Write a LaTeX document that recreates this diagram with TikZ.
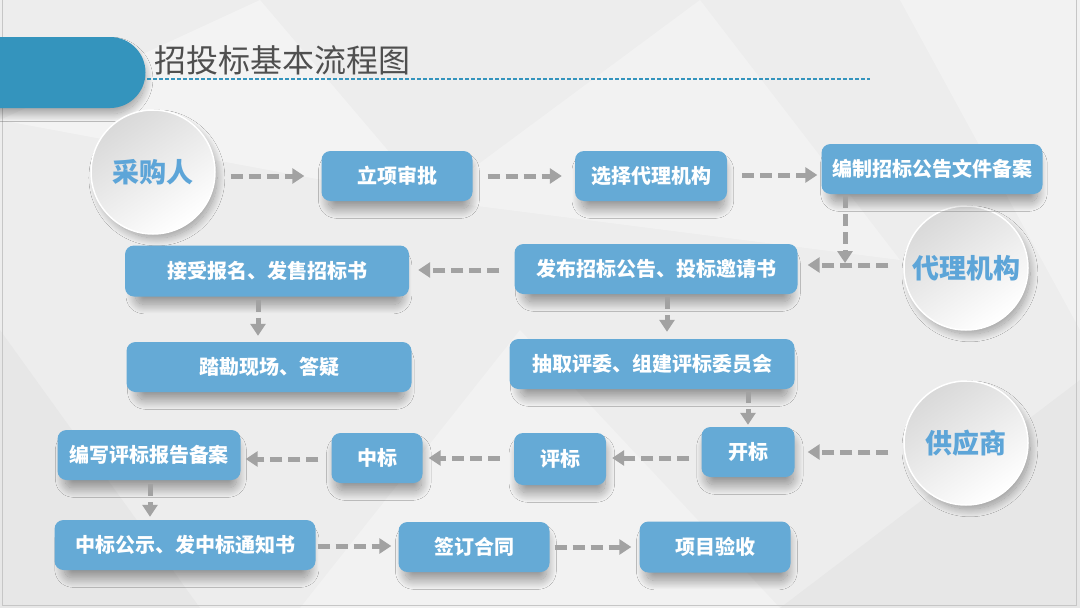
\documentclass[tikz,border=0pt]{standalone}
\usepackage{fontspec}
\newfontfamily\cjk{Noto Sans CJK SC}
\usetikzlibrary{arrows.meta,shadows.blur}
\definecolor{bgc}{HTML}{EDEDED}
\definecolor{boxblue}{HTML}{65AAD6}
\definecolor{titleblue}{HTML}{3494BD}
\definecolor{circblue}{HTML}{5DA5D8}
\definecolor{arrgray}{HTML}{A2A2A2}
\definecolor{titlegray}{HTML}{4F4F4F}
\begin{document}
\begin{tikzpicture}[x=1pt,y=-1pt,
  stepbox/.style={rectangle, rounded corners=9pt, fill=boxblue, text=white,
    font=\cjk\bfseries\fontsize{20}{23}\selectfont, inner sep=0pt,
    blur shadow={shadow xshift=2pt, shadow yshift=-10pt, shadow blur steps=25, shadow opacity=40, shadow blur radius=10pt, shadow scale=0.94}},
  role/.style={circle, minimum size=124pt, draw=white, line width=1.5pt,
    top color=gray!30, bottom color=white, shading angle=35, text=circblue,
    font=\cjk\bfseries\fontsize{27}{30}\selectfont, inner sep=0pt,
    blur shadow={shadow xshift=4pt, shadow yshift=-6pt, shadow blur steps=25, shadow opacity=35, shadow blur radius=8pt, shadow scale=0.97}},
  arr/.style={draw=arrgray, line width=5pt, dash pattern=on 12pt off 6pt,
    -{Triangle[length=12pt,width=15pt]}}
]
\useasboundingbox (0,0) rectangle (1080,608);
% background
\fill[bgc] (0,0) rectangle (1080,608);
\fill[white,opacity=0.35] (0,120) -- (260,0) -- (430,200) -- cycle;
\fill[white,opacity=0.3] (430,200) -- (700,0) -- (900,260) -- cycle;
\fill[white,opacity=0.3] (300,608) -- (520,330) -- (780,608) -- cycle;
\fill[gray,opacity=0.05] (0,330) -- (200,608) -- (0,608) -- cycle;
\fill[white,opacity=0.3] (900,0) -- (1080,0) -- (1080,330) -- cycle;
\fill[gray,opacity=0.05] (780,608) -- (1080,380) -- (1080,608) -- cycle;
\draw[gray!45, line width=1pt] (2,-5) -- (2,605) -- (1076,605) -- (1076,-5);
% title
\fill[titleblue, blur shadow={shadow xshift=2pt, shadow yshift=-7pt, shadow opacity=35, shadow blur steps=25, shadow blur radius=8pt, shadow scale=0.97}]
  (-10,37) -- (110,37) arc[start angle=-90, end angle=90, radius=35.5] -- (-10,108) -- cycle;
\draw[titleblue, line width=1.2pt, dash pattern=on 4pt off 2pt] (147,79) -- (870,79);
\node[anchor=west, text=titlegray, font=\cjk\fontsize{32}{34}\selectfont, inner sep=0pt] (title) at (154,60) {招投标基本流程图};
% roles
\node[role] (cgr) at (153,172) {采购人};
\node[role] (dl) at (966,268) {代理机构};
\node[role] (gys) at (966,443) {供应商};
% boxes
\node[stepbox, minimum width=151pt, minimum height=50pt] (lx) at (397,176) {立项审批};
\node[stepbox, minimum width=152pt, minimum height=50pt] (xz) at (651,176) {选择代理机构};
\node[stepbox, minimum width=221pt, minimum height=50pt] (bz) at (932,169) {编制招标公告文件备案};
\node[stepbox, minimum width=283pt, minimum height=50pt] (fb) at (656,269) {发布招标公告、投标邀请书};
\node[stepbox, minimum width=284pt, minimum height=51pt] (js) at (267,271) {接受报名、发售招标书};
\node[stepbox, minimum width=285pt, minimum height=50pt] (tk) at (269,367) {踏勘现场、答疑};
\node[stepbox, minimum width=285pt, minimum height=50pt] (cq) at (652,364) {抽取评委、组建评标委员会};
\node[stepbox, minimum width=93pt, minimum height=50pt] (kb) at (748,452) {开标};
\node[stepbox, minimum width=92pt, minimum height=52pt] (pb) at (560,459) {评标};
\node[stepbox, minimum width=91pt, minimum height=50pt] (zb) at (377,458) {中标};
\node[stepbox, minimum width=183pt, minimum height=50pt] (bx) at (149,455) {编写评标报告备案};
\node[stepbox, minimum width=261pt, minimum height=50pt] (zg) at (185,545) {中标公示、发中标通知书};
\node[stepbox, minimum width=151pt, minimum height=50pt] (qd) at (474,547) {签订合同};
\node[stepbox, minimum width=151pt, minimum height=51pt] (xm) at (715,547) {项目验收};
% connectors
\coordinate (j) at (845,265);
\draw[arr, shorten <=15pt, shorten >=17pt] (cgr.east |- 0,176) -- (lx.west |- 0,176);
\draw[arr, shorten <=15pt, shorten >=13pt] (lx.east |- 0,176) -- (xz.west |- 0,176);
\draw[arr, shorten <=15pt, shorten >=4pt] (xz.east |- 0,175) -- (bz.west |- 0,175);
\draw[arr, shorten <=2pt, shorten >=2pt] (bz.south -| j) -- (j);
\draw[arr, shorten <=15pt, shorten >=10pt] (dl.west |- j) -- (fb.east |- j);
\draw[arr, shorten <=15pt, shorten >=9pt] (fb.west |- 0,270) -- (js.east |- 0,270);
\draw[arr, shorten <=3pt, shorten >=6pt] (js.south -| 258,0) -- (tk.north -| 258,0);
\draw[arr, shorten <=3pt, shorten >=7pt] (fb.south -| 667,0) -- (cq.north -| 667,0);
\draw[arr, shorten <=2pt, shorten >=2pt] (cq.south -| kb) -- (kb.north);
\draw[arr, shorten <=15pt, shorten >=13pt] (gys.west |- 0,452) -- (kb.east |- 0,452);
\draw[arr, shorten <=12pt, shorten >=6pt] (kb.west |- 0,458) -- (pb.east |- 0,458);
\draw[arr, shorten <=14pt, shorten >=6pt] (pb.west |- 0,458) -- (zb.east |- 0,458);
\draw[arr, shorten <=13pt, shorten >=5pt] (zb.west |- 0,459) -- (bx.east |- 0,459);
\draw[arr, shorten <=4pt, shorten >=3pt] (bx.south -| 150,0) -- (zg.north -| 150,0);
\draw[arr, shorten <=2pt, shorten >=7pt] (zg.east |- 0,546) -- (qd.west |- 0,546);
\draw[arr, shorten <=5pt, shorten >=8pt] (qd.east |- 0,547) -- (xm.west |- 0,547);
\end{tikzpicture}
\end{document}
